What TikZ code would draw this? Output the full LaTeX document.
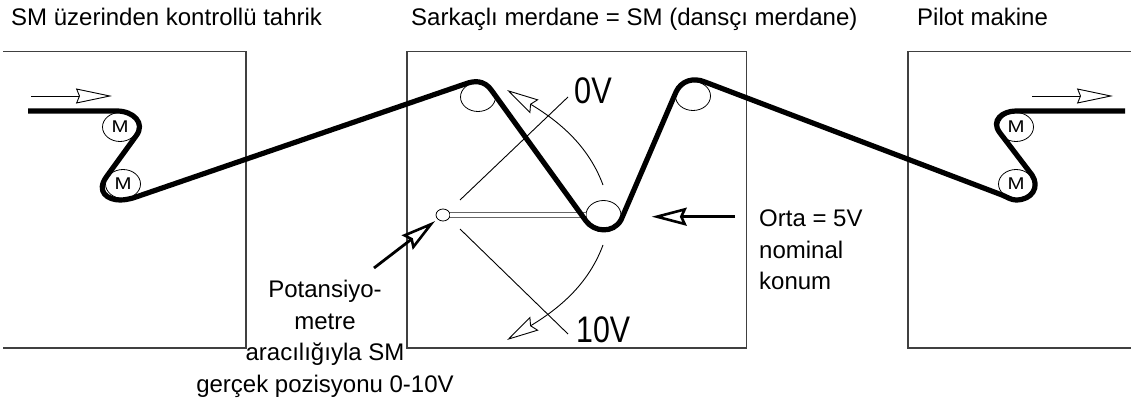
\documentclass[tikz,border=0pt]{standalone}
\usepackage{fontspec}
\setmainfont{Liberation Sans}
\usetikzlibrary{positioning, arrows.meta, calc, shapes.geometric}

\begin{document}
\begin{tikzpicture}[
    x=1pt, y=-1pt,
    station/.style={draw=black!75, line width=1.2pt},
    roller/.style={
        ellipse, draw=black, line width=0.8pt, inner sep=0pt,
        minimum width=35pt, minimum height=29pt
    },
    motor/.style={roller, font=\fontsize{17}{17}\selectfont},
    pivot/.style={
        ellipse, draw=black, line width=0.8pt, inner sep=0pt,
        minimum width=14pt, minimum height=12pt
    },
    belt/.style={line width=5.2pt, black, line join=round},
    rod/.style={draw=black!60, line width=1.5pt, double=white, double distance=3.6pt},
    thinline/.style={black, line width=0.9pt},
    heading/.style={anchor=base west, inner sep=0pt, font=\fontsize{24}{31.7}\selectfont},
    note/.style={inner sep=0pt, font=\fontsize{24}{31.7}\selectfont},
    volt/.style={anchor=base west, inner sep=0pt, font=\fontsize{37}{37}\selectfont},
    flow/.style={thinline, -{Stealth[open, fill=white, length=36pt, width=15pt, inset=3pt, line width=0.9pt]}},
    swing/.style={thinline, -{Stealth[open, fill=white, length=32pt, width=16pt, inset=4pt, line width=0.9pt]}},
    pointer/.style={black, line width=2.8pt, -{Stealth[open, fill=white, length=35pt, width=18pt, inset=4pt, line width=2.6pt]}},
]
\useasboundingbox (0,0) rectangle (1131,406);

% Headings
\node[heading] (titleleft) at (11,26) {SM üzerinden kontrollü tahrik};
\node[heading] (titlemid) at (411,26) {Sarkaçlı merdane = SM (dansçı merdane)};
\node[heading] (titleright) at (917,26) {Pilot makine};

% Stations
\draw[station] (3,51.5) -- (246,51.5) -- (246,348) -- (3,348);
\draw[station] (407,51.5) rectangle (746.5,348);
\draw[station] (1131,51.5) -- (908,51.5) -- (908,348) -- (1131,348);

% Rollers
\node[motor] (inM1) at (120,127) {\scalebox{1.2}[1]{M}};
\node[motor] (inM2) at (123,184) {\scalebox{1.2}[1]{M}};
\node[roller] (dancerL) at (478,97) {};
\node[roller] (dancerB) at (603.5,215) {};
\node[roller] (dancerR) at (693,96) {};
\node[motor] (outM1) at (1016,127) {\scalebox{1.2}[1]{M}};
\node[motor] (outM2) at (1016,184) {\scalebox{1.2}[1]{M}};

% Potentiometer arm
\node[pivot] (pot) at (443,215) {};
\draw[rod] (pot) -- (dancerB);

% Limit lines
\coordinate (zeroA) at (460,200);
\coordinate (zeroB) at (568,97);
\coordinate (tenA) at (460,229);
\coordinate (tenB) at (568,334);
\draw[thinline] (zeroA) -- (zeroB);
\draw[thinline] (tenA) -- (tenB);

% Swing arrows
\coordinate (swingup) at (603,185);
\coordinate (swingdown) at (603,245);
\coordinate (swingupend) at (507,90);
\coordinate (swingdownend) at (507,340);
\draw[swing] (swingup) .. controls (590,150) and (565,125) .. (swingupend);
\draw[swing] (swingdown) .. controls (590,280) and (565,305) .. (swingdownend);

% Belt
\draw[belt] (28,111) -- (117,111)
    .. controls (133,111) and (146,123) .. (136,136) -- (107,176)
    .. controls (95,192) and (108,200) .. (120,200)
    .. controls (125,200) and (129,199) .. (133,198) -- (465,84)
    .. controls (473,81) and (484,79) .. (492,91) -- (586,221)
    .. controls (594,232) and (613,234) .. (621,220) -- (676,92)
    .. controls (681,81) and (693,77) .. (705,82) -- (1002,195)
    .. controls (1007,197) and (1011,200) .. (1016,200)
    .. controls (1032,200) and (1040,187) .. (1032,175) -- (1000,133)
    .. controls (990,120) and (1003,111) .. (1016,111) -- (1125,111);

% Direction of travel
\coordinate (inflowA) at (31,96);
\coordinate (inflowB) at (112,96);
\coordinate (outflowA) at (1032,96);
\coordinate (outflowB) at (1113,96);
\draw[flow] (inflowA) -- (inflowB);
\draw[flow] (outflowA) -- (outflowB);

% Voltage labels
\node[volt] (zero) at (574,104) {\scalebox{0.83}[1]{0V}};
\node[volt] (ten) at (576,342) {\scalebox{0.82}[1]{10V}};

% Pointers
\coordinate (midtail) at (735,216.7);
\coordinate (midtip) at (651.7,216.7);
\coordinate (pottail) at (374,268);
\draw[pointer] (midtail) -- (midtip);
\draw[pointer, shorten >=3pt] (pottail) -- (pot);

% Notes
\node[note, align=left, anchor=north west] (midnote) at (759,209.5) {Orta = 5V\\nominal\\konum};
\node[note, align=center, anchor=north] (potnote) at (325,280) {Potansiyo-\\metre\\aracılığıyla SM\\gerçek pozisyonu 0-10V};

\end{tikzpicture}
\end{document}
